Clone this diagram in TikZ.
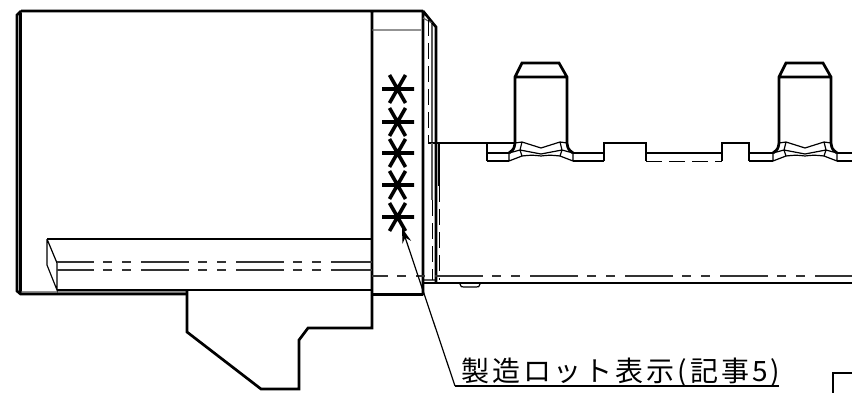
\documentclass[tikz,border=0pt]{standalone}
\usepackage{fontspec}
\newfontfamily\jpfont[LetterSpace=10.5]{Noto Sans CJK JP}
\usetikzlibrary{arrows.meta, positioning}
\tikzset{
    outline/.style={line width=2.7pt, line join=miter},
    thinline/.style={line width=1.2pt},
    grayline/.style={line width=1.2pt, black!65},
    chainline/.style={line width=1.2pt, black!80, dash pattern=on 48pt off 9pt on 9pt off 10pt on 9pt off 10pt},
    hiddenline/.style={line width=0.9pt, dash pattern=on 16pt off 7pt},
    lotmark/.style={line width=3.6pt},
    lotlabel/.style={font=\jpfont\fontsize{28}{28}\selectfont, inner sep=0pt, anchor=base west}
}
\begin{document}
\begin{tikzpicture}[x=1pt, y=-1pt]
    \useasboundingbox (0, 0) rectangle (852, 393);
    % left body
    \draw[outline]
    (21, 11) -- (423, 11)
    (21, 11) -- (17, 15) -- (17, 291) -- (20.5, 294) -- (187, 294)
    (20.5, 13) -- (20.5, 294)
    (372, 11) -- (372, 295)
    (423, 11) -- (423, 295)
    (372, 294.5) -- (423, 294.5)
    (423, 11) -- (436, 27) -- (436, 283);
    \draw[grayline]
    (21, 292) -- (187, 292)
    (372, 30) -- (421, 30)
    (423, 18) -- (432, 23);
    \draw[thinline]
    (432, 23) -- (432, 143)
    (432, 23) -- (436, 27);
    \draw[hiddenline] (428, 20) -- (428, 143);
    % key
    \draw[outline]
    (57, 290) -- (372, 290)
    (47, 239) -- (372, 239);
    \draw[thinline]
    (47, 239) -- (47, 265) -- (57, 290) -- (57, 263) -- (47, 239);
    \draw[chainline, dash phase=11pt] (57, 262) -- (372, 262);
    \draw[chainline, dash phase=11pt] (57, 270) -- (372, 270);
    % lower gusset
    \draw[outline]
    (187, 291) -- (187, 332) -- (261, 389) -- (299, 389) -- (299, 340) -- (308, 328) -- (372, 328) -- (372, 295);
    % right body
    \draw[outline]
    (428, 143) -- (515, 143)
    (423, 283) -- (852, 283);
    \draw[thinline]
    (423, 280) -- (436, 280)
    (460, 284) .. controls (461, 287) .. (464, 287) -- (476, 287) .. controls (479, 287) .. (480, 284);
    \draw[grayline] (432, 143) -- (432, 200);
    \draw[hiddenline] (432, 200) -- (432, 280);
    \draw[thinline] (439, 143) -- (439, 186);
    \draw[hiddenline] (439, 186) -- (439, 280);
    \draw[chainline, dash phase=32pt] (372, 276) -- (852, 276);
    % teeth
    \foreach \toothx in {0, 264} {
        \begin{scope}[xshift=\toothx pt]
            \draw[outline]
            (515, 143) -- (515, 77) -- (522, 63) -- (559, 63) -- (567, 77) -- (567, 143)
            (515, 77) -- (567, 77)
            (515, 143) .. controls (514, 149) .. (509, 153)
            (567, 143) .. controls (568, 149) .. (573, 153);
            \draw[thinline]
            (515, 143) -- (522, 142) .. controls (532, 145) .. (541, 148) .. controls (550, 145) .. (560, 142) -- (567, 143)
            (522, 142) -- (520, 150) -- (522, 156) -- (509, 161)
            (560, 142) -- (562, 150) -- (560, 156) -- (573, 161)
            (509, 153) -- (520, 150) .. controls (530, 152) .. (541, 154) .. controls (552, 152) .. (562, 150) -- (573, 153)
            (522, 156) .. controls (532, 155) .. (541, 156) .. controls (550, 155) .. (560, 156)
            (509, 153) -- (509, 161)
            (573, 153) -- (573, 161);
        \end{scope}
    }
    % flats and tabs
    \draw[outline]
    (487, 143) -- (487, 161)
    (487, 153) -- (509, 153)
    (573, 153) -- (604, 153)
    (604, 161) -- (604, 143) -- (646, 143) -- (646, 161)
    (722, 161) -- (722, 143) -- (749, 143) -- (749, 161)
    (749, 153) -- (773, 153)
    (837, 153) -- (852, 153);
    \draw[thinline]
    (487, 161) -- (509, 161)
    (573, 161) -- (604, 161)
    (646, 153) -- (722, 153)
    (749, 161) -- (773, 161)
    (837, 161) -- (852, 161);
    \draw[hiddenline] (646, 161) -- (722, 161);
    % lot marks
    \foreach \marky in {89, 122, 153, 185, 217} {
        \draw[lotmark]
        (382, \marky) -- (414, \marky)
        (389.5, \marky-14) -- (405.5, \marky+14)
        (405.5, \marky-14) -- (389.5, \marky+14);
    }
    % note
    \node[lotlabel] (lotnote) at (461, 381) {製造ロット表示(記事5)};
    \coordinate (leaderknee) at (455, 386);
    \coordinate (leaderend) at (779, 386);
    \coordinate (leadertip) at (402, 228);
    \draw[thinline] (leaderend) -- (leaderknee);
    \draw[thinline, -{Stealth[length=15pt, width=9pt]}] (leaderknee) -- (leadertip);
    % next view corner
    \draw[thinline] (833, 393) -- (833, 373) -- (852, 373);
\end{tikzpicture}
\end{document}
